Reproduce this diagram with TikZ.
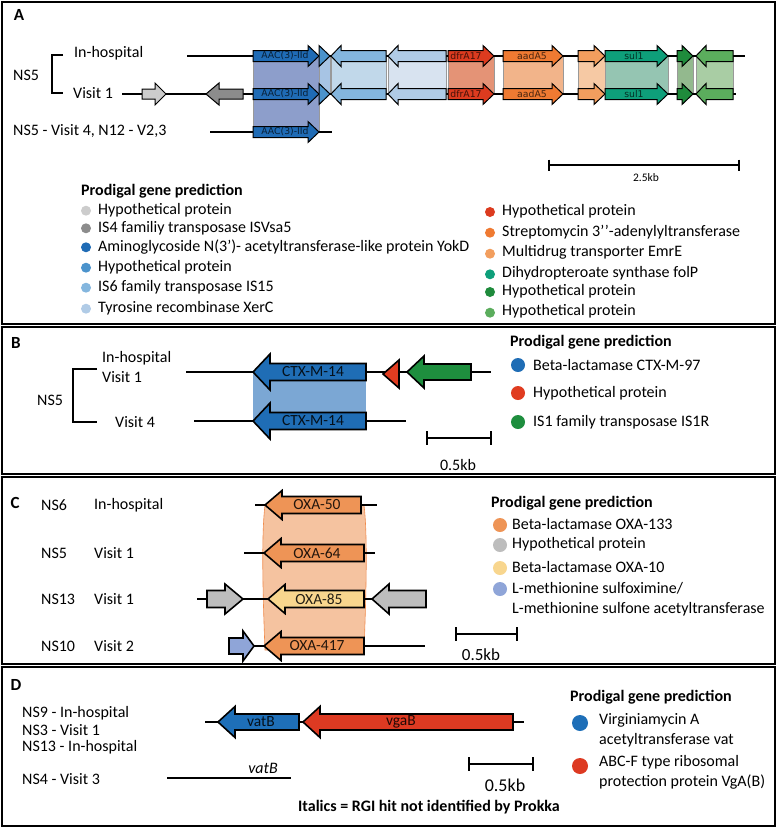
\documentclass[tikz,border=0pt]{standalone}
\usepackage{fontspec}
\setmainfont{Carlito}
\newfontfamily\djv{DejaVu Sans}
\definecolor{aacB}{HTML}{1F6BB5}\definecolor{aacS}{HTML}{8D9ECB}
\definecolor{triB}{HTML}{4B93CC}\definecolor{triS}{HTML}{A7C4E4}
\definecolor{isB}{HTML}{84B6DE}\definecolor{isS}{HTML}{C1D8EA}
\definecolor{xerB}{HTML}{B0CBE6}\definecolor{xerS}{HTML}{D8E3F0}
\definecolor{dfrB}{HTML}{DC3B1F}\definecolor{dfrS}{HTML}{E49376}
\definecolor{aadB}{HTML}{EF7A32}\definecolor{aadS}{HTML}{F2B48A}
\definecolor{emrB}{HTML}{F29E5E}\definecolor{emrS}{HTML}{F6C9A4}
\definecolor{sulB}{HTML}{0E9F7A}\definecolor{sulS}{HTML}{95C5B2}
\definecolor{dgB}{HTML}{1F8B3C}\definecolor{dgS}{HTML}{93B98E}
\definecolor{lgB}{HTML}{5BAD5D}\definecolor{lgS}{HTML}{A9CDA4}
\definecolor{gryL}{HTML}{CCCCCC}\definecolor{gryD}{HTML}{8C8C8C}
\definecolor{ctxB}{HTML}{1F6DB5}\definecolor{ctxS}{HTML}{7BA7D4}
\definecolor{hypR}{HTML}{E03C20}\definecolor{isG}{HTML}{1E8E3E}
\definecolor{oxaO}{HTML}{EE9456}\definecolor{oxaS}{HTML}{F5C3A0}\definecolor{oxaE}{HTML}{F08A4B}
\definecolor{oxaY}{HTML}{F8D68E}\definecolor{oxaG}{HTML}{BDBDBD}\definecolor{oxaL}{HTML}{8FA5D8}
\definecolor{vatC}{HTML}{1E6FB8}\definecolor{vgaC}{HTML}{DD3A22}
% right-pointing gene: style, x start, x tip, y, fill, body half, head half, head length
\newcommand{\gR}[8]{\filldraw[#1,fill=#5] (#2,#4-#6) -- (#3-#8,#4-#6) -- (#3-#8,#4-#7) -- (#3,#4) -- (#3-#8,#4+#7) -- (#3-#8,#4+#6) -- (#2,#4+#6) -- cycle;}
% left-pointing gene: style, x tip, x end, y, fill, body half, head half, head length
\newcommand{\gL}[8]{\filldraw[#1,fill=#5] (#3,#4-#6) -- (#2+#8,#4-#6) -- (#2+#8,#4-#7) -- (#2,#4) -- (#2+#8,#4+#7) -- (#2+#8,#4+#6) -- (#3,#4+#6) -- cycle;}
\tikzset{
  ga/.style={draw=black,line width=1pt,line join=miter},
  gb/.style={draw=black,line width=1.6pt,line join=miter},
  shA/.style={draw=black!40,line width=0.8pt},
  bb/.style={line width=1.2pt,black},
  panel/.style={draw=black,line width=2pt},
  lab/.style={font=\fontsize{16}{19}\selectfont,inner sep=0pt,anchor=west},
  lett/.style={font=\fontsize{17}{20}\selectfont\bfseries,inner sep=0pt},
  ttl/.style={font=\fontsize{16}{19}\selectfont\bfseries,inner sep=0pt,anchor=west},
  gnA/.style={font=\djv\fontsize{9.3}{11}\selectfont,inner sep=0pt,text=black,text opacity=0.7},
  gnB/.style={font=\fontsize{15.5}{18}\selectfont,inner sep=0pt,text=black,text opacity=0.85},
  sbar/.style={line width=1.4pt,black},
}
\begin{document}
\begin{tikzpicture}[x=1pt,y=-1pt]
\useasboundingbox (0,0) rectangle (777,828);
% ---------- panels ----------
\draw[panel] (2,2) rectangle (775,324);
\draw[panel] (2,327) rectangle (775,474);
\draw[panel] (2,477) rectangle (775,664);
\draw[panel] (2,667) rectangle (775,826);
\node[lett] (lA) at (19,15) {A};
\node[lett] (lB) at (16,343) {B};
\node[lett] (lC) at (15,503) {C};
\node[lett] (lD) at (16,685) {D};

% ================= PANEL A =================
% shading
\filldraw[shA,fill=aacS] (253,56) rectangle (319,132);
\filldraw[shA,fill=triS] (319,56) rectangle (330,94);
\filldraw[shA,fill=isS] (331,56) rectangle (386,94);
\filldraw[shA,fill=xerS] (388,56) rectangle (446,94);
\filldraw[shA,fill=dfrS] (448,56) rectangle (494,94);
\filldraw[shA,fill=aadS] (503,56) rectangle (563,94);
\filldraw[shA,fill=emrS] (578,56) rectangle (605,94);
\filldraw[shA,fill=sulS] (605,56) rectangle (668,94);
\filldraw[shA,fill=dgS] (677,56) rectangle (693,94);
\filldraw[shA,fill=lgS] (696,56) rectangle (733,94);
% backbones
\coordinate (a1s) at (187,56); \coordinate (a1e) at (745,56);
\coordinate (a2s) at (122,94); \coordinate (a2e) at (736,94);
\coordinate (a3s) at (210,132); \coordinate (a3e) at (332,132);
\draw[bb] (a1s) -- (a1e);
\draw[bb] (a2s) -- (a2e);
\draw[bb] (a3s) -- (a3e);
% genes rows 1 and 2
\foreach \yy in {56,94}{
  \gR{ga}{253}{319}{\yy}{aacB}{5.5}{10.5}{11}
  \filldraw[ga,fill=triB] (319,\yy-10.5) -- (330,\yy) -- (319,\yy+10.5) -- cycle;
  \gL{ga}{331}{386}{\yy}{isB}{5.5}{10.5}{10}
  \gL{ga}{388}{446}{\yy}{xerB}{5.5}{10.5}{10}
  \gR{ga}{448}{494}{\yy}{dfrB}{5.5}{10.5}{11}
  \gR{ga}{503}{563}{\yy}{aadB}{5.5}{10.5}{11}
  \gR{ga}{578}{605}{\yy}{emrB}{5.5}{10.5}{11}
  \gR{ga}{605}{668}{\yy}{sulB}{5.5}{10.5}{11}
  \gR{ga}{677}{693}{\yy}{dgB}{5.5}{10.5}{11}
  \gL{ga}{696}{733}{\yy}{lgB}{5.5}{10.5}{10}
  \node[gnA] at (285,\yy) {AAC(3)-IId};
  \node[gnA] at (466,\yy) {dfrA17};
  \node[gnA] at (532,\yy) {aadA5};
  \node[gnA] at (634,\yy) {sul1};
}
\gR{ga}{253}{319}{132}{aacB}{5.5}{10.5}{11}
\node[gnA] (aac3) at (285,132) {AAC(3)-IId};
\gR{ga}{142}{166}{94}{gryL}{5}{11}{11}
\gL{ga}{206}{243}{94}{gryD}{5}{11}{13}
% labels
\node[lab] (ns5a) at (13,75) {NS5};
\coordinate (brT) at (63,55); \coordinate (brB) at (63,93);
\draw[line width=1.1pt] (brT) -- (52,55) -- (52,93) -- (brB);
\node[lab] (ihA) at (74,53) {In-hospital};
\node[lab] (v1A) at (73,93) {Visit 1};
\node[lab] (v4A) at (13,131) {NS5 - Visit 4, N12 - V2,3};
% scale bar
\coordinate (sA1) at (549,165); \coordinate (sA2) at (739,165);
\draw[sbar] (sA1) -- (sA2);
\draw[sbar] (549,159.5) -- (549,170.5);
\draw[sbar] (739,159.5) -- (739,170.5);
\node[inner sep=0pt,font=\fontsize{11.5}{13}\selectfont] (kbA) at (646,178) {2.5kb};
% legend
\node[ttl] (tA) at (81,191) {Prodigal gene prediction};
\foreach \yy/\cc/\tt [count=\i] in {210.7/gryL/Hypothetical protein, 228.3/gryD/IS4 familiy transposase ISVsa5, 247.3/aacB/Aminoglycoside N(3’)- acetyltransferase-like protein YokD, 267.7/triB/Hypothetical protein, 287.7/isB/IS6 family transposase IS15, 308.7/xerB/Tyrosine recombinase XerC}{
  \fill[\cc] (86,\yy) circle (5pt);
  \node[lab] (lgA\i) at (98,\yy) {\tt};
}
\foreach \yy/\cc/\tt [count=\i] in {211/dfrB/Hypothetical protein, 231.7/aadB/{Streptomycin 3’\kern0.6pt’-adenylyltransferase}, 252.7/emrB/Multidrug transporter EmrE, 273.3/sulB/Dihydropteroate synthase folP, 291/dgB/Hypothetical protein, 311.7/lgB/Hypothetical protein}{
  \fill[\cc] (490,\yy+1) circle (5pt);
  \node[lab] (lgR\i) at (502,\yy) {\tt};
}

% ================= PANEL B =================
\fill[ctxS] (253,372) rectangle (366,421);
\coordinate (b1s) at (186,372); \coordinate (b1e) at (491,372);
\coordinate (b2s) at (194,421); \coordinate (b2e) at (406,421);
\draw[bb] (b1s) -- (b1e);
\draw[bb] (b2s) -- (b2e);
\gL{gb}{253}{366}{372}{ctxB}{8.5}{18}{17}
\gL{gb}{253}{366}{421}{ctxB}{8.5}{18}{17}
\node[gnB] (ctx1) at (313,372) {CTX-M-14};
\node[gnB] (ctx2) at (313,421) {CTX-M-14};
\filldraw[gb,fill=hypR] (383,374) -- (399,360) -- (399,388) -- cycle;
\gL{gb}{407}{471}{372}{isG}{8}{16}{17}
\node[lab] (ihB) at (102,358) {In-hospital};
\node[lab] (v1B) at (102,377) {Visit 1};
\node[lab] (ns5b) at (37,400) {NS5};
\draw[line width=1.1pt] (97,369) -- (73,369) -- (73,422) -- (97,422);
\node[lab] (v4B) at (115,422) {Visit 4};
\draw[sbar] (427,438) -- (491,438);
\draw[sbar] (427,431) -- (427,445);
\draw[sbar] (491,431) -- (491,445);
\node[inner sep=0pt,font=\fontsize{16}{19}\selectfont] (kbB) at (458,465) {0.5kb};
\node[ttl] (tB) at (510,342) {Prodigal gene prediction};
\fill[ctxB] (518,365) circle (7pt); \node[lab] (lgB1) at (533,365) {Beta-lactamase CTX-M-97};
\fill[hypR] (518,393) circle (7pt); \node[lab] (lgB2) at (533,393) {Hypothetical protein};
\fill[isG] (518,422) circle (7pt); \node[lab] (lgB3) at (533,422) {IS1 family transposase IS1R};

% ================= PANEL C =================
\filldraw[fill=oxaS,draw=oxaE,line width=0.6pt] (265,505) .. controls (262,530) and (262,575) .. (265,650) -- (364,650) .. controls (367,575) and (367,530) .. (364,505) -- cycle;
\draw[bb] (255,505) -- (377,505);
\draw[bb] (244,553) -- (375,553);
\draw[bb] (197,599) -- (426,599);
\draw[bb] (254,646) -- (425,646);
\gL{gb}{265}{361}{505}{oxaO}{8.5}{14.5}{17}
\gL{gb}{264}{364}{553}{oxaO}{8.5}{14.5}{17}
\gR{gb}{207}{243}{599}{oxaG}{8.5}{15}{18}
\gL{gb}{268}{364}{599}{oxaY}{8.5}{14.5}{17}
\gL{gb}{372}{426}{599}{oxaG}{8.5}{15}{17}
\gR{gb}{229}{254}{646}{oxaL}{8}{15}{11}
\gL{gb}{264}{364}{646}{oxaO}{8.5}{14.5}{17}
\node[gnB] (ox1) at (317,505) {OXA-50};
\node[gnB] (ox2) at (317,553) {OXA-64};
\node[gnB] (ox3) at (319,599) {OXA-85};
\node[gnB] (ox4) at (317,646) {OXA-417};
\node[lab] (c1a) at (41,505) {NS6};  \node[lab] (c1b) at (94,505) {In-hospital};
\node[lab] (c2a) at (41,553) {NS5};  \node[lab] (c2b) at (94,553) {Visit 1};
\node[lab] (c3a) at (41,599) {NS13}; \node[lab] (c3b) at (94,599) {Visit 1};
\node[lab] (c4a) at (41,646) {NS10}; \node[lab] (c4b) at (94,646) {Visit 2};
\draw[sbar] (456,634) -- (517,634);
\draw[sbar] (456,627) -- (456,641);
\draw[sbar] (517,627) -- (517,641);
\node[inner sep=0pt,font=\fontsize{17}{20}\selectfont] (kbC) at (481,655) {0.5kb};
\node[ttl] (tC) at (491,503) {Prodigal gene prediction};
\fill[oxaO] (500,525) circle (7pt); \node[lab] (lgC1) at (512,524) {Beta-lactamase OXA-133};
\fill[oxaG] (500,545) circle (7pt); \node[lab] (lgC2) at (512,544) {Hypothetical protein};
\fill[oxaY] (500,568) circle (7pt); \node[lab] (lgC3) at (512,567) {Beta-lactamase OXA-10};
\fill[oxaL] (500,589) circle (7pt); \node[lab] (lgC4) at (512,588) {L-methionine sulfoximine/};
\node[lab] (lgC5) at (512,609) {L-methionine sulfone acetyltransferase};

% ================= PANEL D =================
\coordinate (d1s) at (205,722); \coordinate (d1e) at (524,722);
\draw[bb] (d1s) -- (d1e);
\gL{gb}{218}{299}{722}{vatC}{8}{15.5}{17}
\gL{gb}{303}{513}{722}{vgaC}{8}{15.5}{17}
\node[gnB] (vat) at (261,722) {vatB};
\node[gnB] (vga) at (401,722) {vgaB};
\node[lab] (d1) at (22,713) {NS9 - In-hospital};
\node[lab] (d2) at (22,730) {NS3 - Visit 1};
\node[lab] (d3) at (22,747) {NS13 - In-hospital};
\node[lab] (d4) at (22,779) {NS4 - Visit 3};
\coordinate (d4s) at (167,778); \coordinate (d4e) at (291,778);
\draw[bb] (d4s) -- (d4e);
\node[inner sep=0pt,font=\fontsize{16}{19}\selectfont\itshape] (vatI) at (263,768) {vatB};
\draw[sbar] (469,764) -- (533,764);
\draw[sbar] (469,757) -- (469,771);
\draw[sbar] (533,757) -- (533,771);
\node[inner sep=0pt,font=\fontsize{18}{21}\selectfont] (kbD) at (505,785) {0.5kb};
\node[inner sep=0pt,font=\fontsize{16}{19}\selectfont\bfseries] (ital) at (429,807) {Italics = RGI hit not identified by Prokka};
\node[ttl] (tD) at (570,697) {Prodigal gene prediction};
\fill[vatC] (580,723) circle (8pt);
\node[lab] (lgD1) at (599,720) {Virginiamycin A};
\node[lab] (lgD2) at (599,740) {acetyltransferase vat};
\fill[vgaC] (580,766) circle (8pt);
\node[lab] (lgD3) at (599,762) {ABC-F type ribosomal};
\node[lab] (lgD4) at (599,782) {protection protein VgA(B)};
\end{tikzpicture}
\end{document}
